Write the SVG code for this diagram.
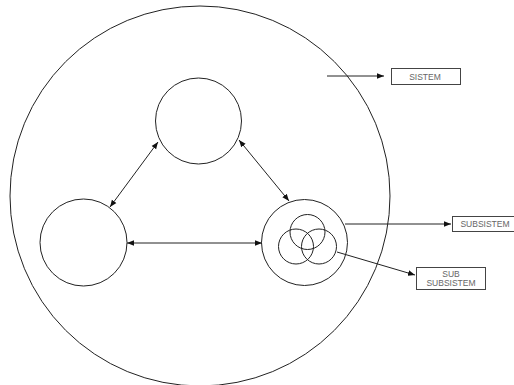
<svg xmlns="http://www.w3.org/2000/svg" width="514" height="385" viewBox="0 0 514 385">
<style>
.c{fill:none;stroke:#222;stroke-width:1}
.ln{fill:none;stroke:#222;stroke-width:1}
.bx{fill:#fff;stroke:#444;stroke-width:1}
.t{font-family:"Liberation Sans",Arial,sans-serif;font-size:8.5px;fill:#666;text-anchor:middle}
</style>
<defs>
<marker id="ah" viewBox="0 0 10 10" refX="10" refY="5" markerWidth="7" markerHeight="7" markerUnits="userSpaceOnUse" orient="auto-start-reverse">
<path d="M0,1 L10,5 L0,9 z" fill="#111"/>
</marker>
</defs>
<rect width="514" height="385" fill="#fff"/>
<g id="system"><ellipse class="c" cx="200" cy="196" rx="190" ry="190"/></g>
<g id="top-node"><circle class="c" cx="198.5" cy="121" r="43"/></g>
<g id="left-node"><circle class="c" cx="83.5" cy="242.5" r="43.5"/></g>
<g id="right-node">
<circle class="c" cx="304.5" cy="242.5" r="43"/>
<circle class="c" cx="307.5" cy="232" r="17.5"/>
<circle class="c" cx="296" cy="246.5" r="17.5"/>
<circle class="c" cx="319" cy="246.5" r="17.5"/>
</g>
<g id="label-sistem"><rect class="bx" x="391.5" y="68.5" width="69" height="16"/><text class="t" x="425" y="79.5">SISTEM</text></g>
<g id="label-subsistem"><rect class="bx" x="452.5" y="216.5" width="64" height="15"/><text class="t" x="485" y="227">SUBSISTEM</text></g>
<g id="label-subsubsistem"><rect class="bx" x="416.5" y="267.5" width="69" height="22"/><text class="t" x="451" y="276.5">SUB</text><text class="t" x="451" y="285.5">SUBSISTEM</text></g>
<g id="connectors">
<line class="ln" x1="158" y1="142" x2="110" y2="207" marker-start="url(#ah)" marker-end="url(#ah)"/>
<line class="ln" x1="239" y1="140" x2="289" y2="201" marker-start="url(#ah)" marker-end="url(#ah)"/>
<line class="ln" x1="127" y1="243" x2="262" y2="243" marker-start="url(#ah)" marker-end="url(#ah)"/>
<line class="ln" x1="327" y1="76" x2="384" y2="76" marker-end="url(#ah)"/>
<line class="ln" x1="345" y1="224" x2="451" y2="224" marker-end="url(#ah)"/>
<line class="ln" x1="337" y1="252" x2="415" y2="275" marker-end="url(#ah)"/>
</g>
</svg>
